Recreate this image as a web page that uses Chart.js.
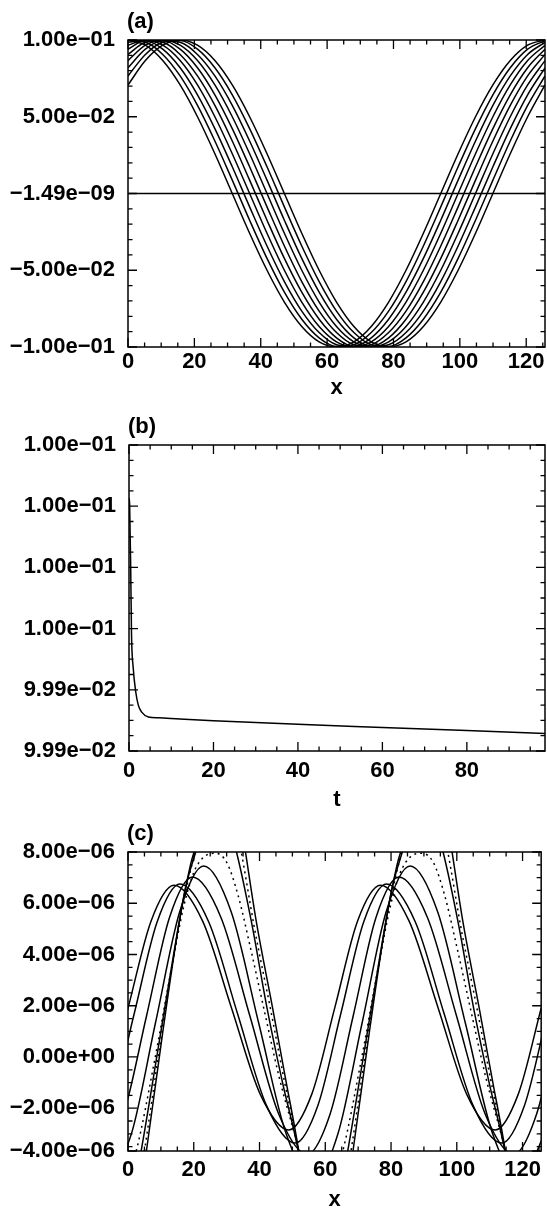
<!DOCTYPE html>
<html>
<head>
<meta charset="utf-8">
<script src="https://cdn.jsdelivr.net/npm/chart.js@4/dist/chart.umd.min.js"></script>
<style>
html, body { margin: 0; padding: 0; background: #fff; }
#wrap { position: relative; width: 547px; height: 1216px; }
.panel { position: absolute; left: 0; width: 547px; }
</style>
</head>
<body>
<div id="wrap">
  <div class="panel" style="top:0;height:400px"><canvas id="cA"></canvas></div>
  <div class="panel" style="top:400px;height:412px"><canvas id="cB"></canvas></div>
  <div class="panel" style="top:812px;height:404px"><canvas id="cC"></canvas></div>
</div>
<script>
"use strict";
// ---- panel (a): phi(x) at successive times ----
const xsA = [0, 5.24, 10.47, 15.71, 20.94, 26.18, 31.42, 36.65, 41.89, 47.12, 52.36, 57.6, 62.83,
  68.07, 73.3, 78.54, 83.78, 89.01, 94.25, 99.48, 104.72, 109.96, 115.19, 120.43, 125.66];
const a0 = [.1, .0966, .0866, .0707, .05, .0259, 0, -.0259, -.05, -.0707, -.0866, -.0966, -.1, -.0966, -.0866, -.0707, -.05, -.0259, 0, .0259, .05, .0707, .0866, .0966, .1];
const a1 = [.0996, .0985, .0906, .0766, .0574, .0342, .0087, -.0174, -.0423, -.0643, -.0819, -.094, -.0996, -.0985, -.0906, -.0766, -.0574, -.0342, -.0087, .0174, .0423, .0643, .0819, .094, .0996];
const a2 = [.0985, .0996, .094, .0819, .0643, .0423, .0174, -.0087, -.0342, -.0574, -.0766, -.0906, -.0985, -.0996, -.094, -.0819, -.0643, -.0423, -.0174, .0087, .0342, .0574, .0766, .0906, .0985];
const a3 = [.0966, .1, .0966, .0866, .0707, .05, .0259, 0, -.0259, -.05, -.0707, -.0866, -.0966, -.1, -.0966, -.0866, -.0707, -.05, -.0259, 0, .0259, .05, .0707, .0866, .0966];
const a4 = [.094, .0996, .0985, .0906, .0766, .0574, .0342, .0087, -.0174, -.0423, -.0643, -.0819, -.094, -.0996, -.0985, -.0906, -.0766, -.0574, -.0342, -.0087, .0174, .0423, .0643, .0819, .094];
const a5 = [.0906, .0985, .0996, .094, .0819, .0643, .0423, .0174, -.0087, -.0342, -.0574, -.0766, -.0906, -.0985, -.0996, -.094, -.0819, -.0643, -.0423, -.0174, .0087, .0342, .0574, .0766, .0906];
const a6 = [.0866, .0966, .1, .0966, .0866, .0707, .05, .0259, 0, -.0259, -.05, -.0707, -.0866, -.0966, -.1, -.0966, -.0866, -.0707, -.05, -.0259, 0, .0259, .05, .0707, .0866];
const a7 = [.0819, .094, .0996, .0985, .0906, .0766, .0574, .0342, .0087, -.0174, -.0423, -.0643, -.0819, -.094, -.0996, -.0985, -.0906, -.0766, -.0574, -.0342, -.0087, .0174, .0423, .0643, .0819];
const a8 = [.0766, .0906, .0985, .0996, .094, .0819, .0643, .0423, .0174, -.0087, -.0342, -.0574, -.0766, -.0906, -.0985, -.0996, -.094, -.0819, -.0643, -.0423, -.0174, .0087, .0342, .0574, .0766];
const a9 = [.0707, .0866, .0966, .1, .0966, .0866, .0707, .05, .0259, 0, -.0259, -.05, -.0707, -.0866, -.0966, -.1, -.0966, -.0866, -.0707, -.05, -.0259, 0, .0259, .05, .0707];
const meanA = -1.49e-9;
const xTicksA = [0, 20, 40, 60, 80, 100, 120];
const yTicksA = [0.1, 0.05, -1.49e-9, -0.05, -0.1];
const yLabelsA = ["1.00e\u221201", "5.00e\u221202", "\u22121.49e\u221209", "\u22125.00e\u221202", "\u22121.00e\u221201"];

// ---- panel (b): energy vs t ----
const tB = [0, 0.15, 0.4, 0.6, 1.0, 1.6, 2.2, 3.0, 4.6, 7.0, 12, 20, 40, 60, 80, 98.5];
const eB = [0.0999879, 0.0999863, 0.0999719, 0.0999565, 0.099949, 0.0999435, 0.0999405, 0.0999389,
  0.0999378, 0.0999376, 0.0999373, 0.0999369, 0.0999361, 0.0999354, 0.0999347, 0.099934];
const xTicksB = [0, 20, 40, 60, 80];
const yTicksB = [0.1, 0.099986, 0.099972, 0.099958, 0.099944, 0.09993];
const yLabelsB = ["1.00e\u221201", "1.00e\u221201", "1.00e\u221201", "1.00e\u221201", "9.99e\u221202", "9.99e\u221202"];

// ---- panel (c): perturbation, [x, value in 1e-6] ----
const c0 = [[-13.9, -2.85], [-6.9, -1.45], [0.05, 1.925], [7.0, 5.3], [14.0, 6.7], [22.7, 5.3], [31.45, 1.925], [40.2, -1.45], [48.9, -2.85],
  [55.9, -1.45], [62.9, 1.925], [69.8, 5.3], [76.8, 6.7], [85.5, 5.3], [94.3, 1.925], [103.0, -1.45], [111.7, -2.85], [118.7, -1.45], [125.7, 1.925], [132.6, 5.3]];
const c1 = [[-12, -3.36], [-5.05, -1.88], [1.9, 1.695], [8.85, 5.27], [15.8, 6.75], [24.56, 5.27], [33.3, 1.695], [42.07, -1.88], [50.83, -3.36],
  [57.78, -1.88], [64.73, 1.695], [71.68, 5.27], [78.63, 6.75], [87.39, 5.27], [96.13, 1.695], [104.9, -1.88], [113.66, -3.36], [120.61, -1.88], [127.56, 1.695]];
const c2 = [[-8.3, -3.8], [-1.33, -2.215], [5.65, 1.61], [12.6, 5.435], [19.6, 7.02], [28.3, 5.435], [37.05, 1.61], [45.8, -2.215], [54.5, -3.8],
  [61.5, -2.215], [68.5, 1.61], [75.4, 5.435], [82.4, 7.02], [91.1, 5.435], [99.9, 1.61], [108.6, -2.215], [117.3, -3.8], [124.3, -2.215], [131.3, 1.61]];
const c3 = [[-6.3, -4.8], [1.03, -3.0], [8.35, 1.325], [15.7, 5.655], [23, 7.45], [31.4, 5.655], [39.75, 1.325], [48.1, -3.0], [56.5, -4.8],
  [63.85, -3.0], [71.2, 1.325], [78.5, 5.655], [85.8, 7.45], [94.2, 5.655], [102.6, 1.325], [110.9, -3.0], [119.3, -4.8], [126.7, -3.0]];
const c4 = [[-11.3, -3.4], [-8, -5.0], [-4.4, -5.5], [-1, -5.0], [2.5, -3.67], [8, -0.2], [13, 3.3], [17, 5.9], [20, 7.2], [23, 7.8], [26.5, 7.95],
  [30, 7.6], [33.5, 6.3], [37, 4.4], [41.3, 1.9], [46, -0.8], [51.5, -3.4], [54.83, -5.0], [58.43, -5.5], [61.83, -5.0], [65.33, -3.67],
  [70.83, -0.2], [75.83, 3.3], [79.83, 5.9], [82.83, 7.2], [85.83, 7.8], [89.33, 7.95], [92.83, 7.6], [96.33, 6.3], [99.83, 4.4], [104.13, 1.9],
  [108.83, -0.8], [114.33, -3.4], [117.63, -5.0], [121.23, -5.5], [124.63, -5.0], [128.13, -3.67]];
const c5 = [[-11, -3.7], [-7.5, -6.5], [-3.5, -7.2], [0.5, -6.0], [4, -3.67], [9, 0.2], [14, 4.1], [17.5, 6.6], [20.6, 8.0], [24, 9.4], [27, 9.8],
  [30, 9.3], [33, 8.0], [37.5, 5.3], [42.3, 1.9], [47, -1.0], [51.83, -3.7], [55.33, -6.5], [59.33, -7.2], [63.33, -6.0], [66.83, -3.67],
  [71.83, 0.2], [76.83, 4.1], [80.33, 6.6], [83.43, 8.0], [86.83, 9.4], [89.83, 9.8], [92.83, 9.3], [95.83, 8.0], [100.33, 5.3], [105.13, 1.9],
  [109.83, -1.0], [114.66, -3.7], [118.16, -6.5], [122.16, -7.2], [126.16, -6.0]];
const c6 = [[-10.8, -3.8], [-7, -7.3], [-3, -8.2], [1.5, -6.5], [5, -3.67], [10, 0.7], [15, 4.8], [18.5, 7.0], [21, 8.3], [24.5, 10.0], [28, 10.6],
  [31, 10.0], [34, 8.3], [38.5, 5.0], [43.3, 1.9], [47.5, -0.9], [52.03, -3.8], [55.83, -7.3], [59.83, -8.2], [64.33, -6.5], [67.83, -3.67],
  [72.83, 0.7], [77.83, 4.8], [81.33, 7.0], [83.83, 8.3], [87.33, 10.0], [90.83, 10.6], [93.83, 10.0], [96.83, 8.3], [101.33, 5.0], [106.13, 1.9],
  [110.33, -0.9], [114.86, -3.8], [118.66, -7.3], [122.66, -8.2], [127.16, -6.5]];
const c7 = [[-10.5, -4.0], [-6.5, -8.0], [-2.5, -9.2], [2, -7.2], [5.6, -3.67], [10.5, 0.9], [15.5, 5.2], [19, 7.5], [21.4, 8.6], [24.5, 10.8], [29, 11.6],
  [32, 10.8], [34.5, 9.0], [39, 5.3], [44, 1.9], [48, -0.9], [52.33, -4.0], [56.33, -8.0], [60.33, -9.2], [64.83, -7.2], [68.43, -3.67],
  [73.33, 0.9], [78.33, 5.2], [81.83, 7.5], [84.23, 8.6], [87.33, 10.8], [91.83, 11.6], [94.83, 10.8], [97.33, 9.0], [101.83, 5.3], [106.83, 1.9],
  [110.83, -0.9], [115.16, -4.0], [119.16, -8.0], [123.16, -9.2], [127.66, -7.2]];
const dottedC = [false, false, false, false, true, false, true, false];
const unitC = 1e-6;
const xTicksC = [0, 20, 40, 60, 80, 100, 120];
const yTicksC = [8e-6, 6e-6, 4e-6, 2e-6, 0, -2e-6, -3.67e-6];
const yLabelsC = ["8.00e\u221206", "6.00e\u221206", "4.00e\u221206", "2.00e\u221206", "0.00e+00", "\u22122.00e\u221206", "\u22124.00e\u221206"];

const FONT = "'Liberation Sans', Arial, sans-serif";
const FSIZE = 22;
Chart.defaults.font.family = FONT;
Chart.defaults.color = "#000";

// box with inward major/minor ticks on all four sides, plus the panel letter
const frameTicks = {
  id: "frameTicks",
  afterDatasetsDraw(chart, args, opts) {
    const ctx = chart.ctx, a = chart.chartArea;
    const sx = chart.scales.x, sy = chart.scales.y;
    ctx.save();
    ctx.strokeStyle = "#000";
    ctx.lineWidth = 1.3;
    ctx.beginPath();
    function xTick(v, len) {
      const p = sx.getPixelForValue(v);
      ctx.moveTo(p, a.bottom); ctx.lineTo(p, a.bottom - len);
      ctx.moveTo(p, a.top); ctx.lineTo(p, a.top + len);
    }
    function yTick(v, len) {
      const p = sy.getPixelForValue(v);
      ctx.moveTo(a.left, p); ctx.lineTo(a.left + len, p);
      ctx.moveTo(a.right, p); ctx.lineTo(a.right - len, p);
    }
    for (let i = 0; i * opts.xMinor <= sx.max; i++) xTick(i * opts.xMinor, 4.5);
    sx.ticks.forEach(function (t) { xTick(t.value, 9); });
    for (let i = 0; sy.max - i * opts.yMinor >= sy.min - 1e-12; i++) yTick(sy.max - i * opts.yMinor, 4.5);
    sy.ticks.forEach(function (t) { yTick(t.value, 9); });
    ctx.stroke();
    ctx.lineWidth = 1.5;
    ctx.strokeRect(a.left, a.top, a.right - a.left, a.bottom - a.top);
    ctx.fillStyle = "#000";
    ctx.font = "bold " + FSIZE + "px " + FONT;
    ctx.textAlign = "left";
    ctx.textBaseline = "alphabetic";
    ctx.fillText(opts.label, a.left - 1, a.top - 12);
    ctx.restore();
  }
};

function lineSet(points, dotted, smooth) {
  return {
    data: points,
    borderColor: "#000",
    borderWidth: 1.5,
    borderDash: dotted ? [2, 4] : [],
    pointRadius: 0,
    fill: false,
    cubicInterpolationMode: smooth ? "monotone" : "default",
    tension: smooth ? 0.4 : 0
  };
}

function makePanel(id, p) {
  return new Chart(document.getElementById(id), {
    type: "line",
    data: { datasets: p.datasets },
    options: {
      responsive: true,
      maintainAspectRatio: false,
      animation: false,
      events: [],
      layout: { padding: { top: p.top, right: 2, left: 0, bottom: 0 } },
      plugins: {
        legend: { display: false },
        tooltip: { enabled: false },
        frameTicks: { label: p.label, xMinor: 5, yMinor: p.yMinor }
      },
      scales: {
        x: {
          type: "linear", min: 0, max: p.xMax,
          grid: { display: false, drawTicks: false },
          border: { display: false },
          afterBuildTicks: function (s) { s.ticks = p.xTicks.map(function (v) { return { value: v }; }); },
          afterFit: function (s) { s.height = p.xHeight; },
          ticks: { autoSkip: false, maxRotation: 0, padding: p.xPad, font: { size: FSIZE, weight: "bold" },
            callback: function (v) { return String(v); } },
          title: { display: true, text: p.xTitle, font: { size: FSIZE, weight: "bold", lineHeight: 1 },
            padding: { top: 0, bottom: p.titlePad } }
        },
        y: {
          type: "linear", min: p.yMin, max: p.yMax,
          grid: { display: false, drawTicks: false },
          border: { display: false },
          afterBuildTicks: function (s) { s.ticks = p.yTicks.map(function (v) { return { value: v }; }); },
          afterFit: function (s) { s.width = p.yWidth; },
          ticks: { autoSkip: false, padding: 13, font: { size: FSIZE, weight: "bold" },
            callback: function (v, i) { return p.yLabels[i]; } }
        }
      }
    },
    plugins: [frameTicks]
  });
}

function pairs(xs, ys) {
  return xs.map(function (x, i) { return { x: x, y: ys[i] }; });
}

// panel (a)
const setsA = [a0, a1, a2, a3, a4, a5, a6, a7, a8, a9].map(function (ys) {
  return lineSet(pairs(xsA, ys), false, true);
});
setsA.push(lineSet([{ x: 0, y: meanA }, { x: 125.66, y: meanA }], false, false));
makePanel("cA", {
  datasets: setsA, label: "(a)", top: 40, xMax: 125.66, xTicks: xTicksA, xHeight: 53, xPad: 2,
  xTitle: "x", titlePad: 1, yMin: -0.1, yMax: 0.1, yTicks: yTicksA, yLabels: yLabelsA,
  yMinor: 0.01, yWidth: 128
});

// panel (b)
makePanel("cB", {
  datasets: [lineSet(pairs(tB, eB), false, true)], label: "(b)", top: 45, xMax: 98.5,
  xTicks: xTicksB, xHeight: 61, xPad: 7, xTitle: "t", titlePad: 1,
  yMin: 0.09993, yMax: 0.1, yTicks: yTicksB, yLabels: yLabelsB, yMinor: 0.0000035, yWidth: 129
});

// panel (c)
const setsC = [c0, c1, c2, c3, c4, c5, c6, c7].map(function (nodes, k) {
  const pts = nodes.map(function (n) { return { x: n[0], y: n[1] * unitC }; });
  return lineSet(pts, dottedC[k], true);
});
makePanel("cC", {
  datasets: setsC, label: "(c)", top: 40, xMax: 125.66, xTicks: xTicksC, xHeight: 65, xPad: 6,
  xTitle: "x", titlePad: 5, yMin: -3.67e-6, yMax: 8e-6, yTicks: yTicksC, yLabels: yLabelsC,
  yMinor: 0.5e-6, yWidth: 128
});
</script>
</body>
</html>
